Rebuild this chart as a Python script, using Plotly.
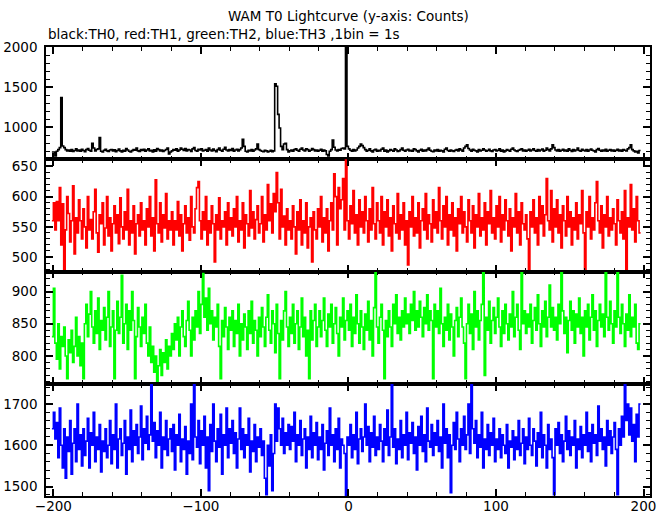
import numpy as np
import plotly.graph_objects as go
from plotly.subplots import make_subplots

# ---------------- data (counts per 1 s bin, bins from t = -201 s) ----------------
t_start = -201.0
bin_width = 1.0

th0 = [690,
       690, 640, 700, 720, 745, 1370, 765, 745, 720, 705, 715, 700, 722, 698, 710, 730, 705, 715, 700, 725,
       710, 695, 720, 735, 712, 700, 800, 740, 705, 722, 730, 870, 700, 690, 712, 725, 705, 698, 715, 720,
       702, 718, 695, 710, 728, 705, 690, 712, 700, 735, 715, 700, 690, 708, 722, 712, 740, 705, 698, 720,
       710, 725, 700, 715, 730, 705, 712, 690, 718, 700, 735, 720, 705, 715, 698, 710, 722, 740, 665, 690,
       705, 720, 712, 730, 700, 715, 740, 725, 710, 735, 705, 722, 715, 698, 730, 745, 710, 700, 725, 715,
       730, 705, 712, 720, 700, 740, 715, 705, 728, 710, 695, 720, 740, 712, 700, 725, 750, 715, 705, 722,
       710, 735, 700, 715, 725, 705, 720, 740, 850, 760, 700, 690, 712, 705, 720, 700, 715, 730, 790, 720,
       710, 700, 695, 712, 705, 690, 700, 712, 695, 705, 1540, 1510, 1160, 990, 760, 720, 790, 800, 720, 690,
       705, 715, 700, 720, 730, 712, 700, 725, 740, 715, 705, 730, 720, 700, 712, 735, 720, 705, 715, 700,
       712, 725, 700, 715, 705, 660, 640, 700, 720, 840, 750, 715, 705, 720, 712, 735, 740, 730, 2150, 760,
       730, 712, 700, 720, 705, 715, 740, 760, 790, 770, 745, 720, 700, 712, 730, 705, 690, 715, 725, 700,
       712, 705, 725, 740, 700, 715, 690, 705, 720, 712, 700, 730, 715, 698, 705, 720, 740, 712, 700, 715,
       725, 705, 712, 700, 730, 720, 705, 690, 712, 725, 700, 715, 705, 720, 740, 712, 700, 695, 715, 705,
       720, 700, 712, 705, 690, 725, 740, 710, 700, 715, 705, 698, 712, 720, 705, 730, 715, 700, 740, 760,
       780, 735, 715, 700, 725, 712, 705, 690, 720, 705, 712, 730, 715, 700, 710, 725, 705, 698, 715, 720,
       705, 712, 730, 700, 715, 690, 705, 720, 712, 700, 725, 740, 715, 705, 698, 712, 720, 730, 705, 715,
       700, 712, 725, 705, 715, 730, 710, 700, 722, 705, 715, 728, 700, 712, 740, 720, 705, 730, 780, 745,
       715, 705, 720, 700, 712, 725, 705, 715, 700, 730, 712, 698, 720, 705, 715, 740, 710, 700, 725, 712,
       705, 720, 700, 715, 728, 712, 705, 690, 720, 735, 712, 700, 715, 705, 725, 700, 712, 720, 705, 715,
       700, 712, 725, 705, 715, 700, 720, 712, 705, 730, 745, 780, 720, 705, 690, 700, 680, 710]

th1 = [560,
       590, 545, 592, 560, 615, 520, 588, 478, 545, 600, 572, 525, 560, 618, 505, 565, 540, 595, 560, 530,
       580, 550, 515, 600, 545, 562, 530, 575, 612, 540, 508, 570, 555, 590, 520, 548, 600, 535, 565, 510,
       555, 585, 540, 570, 522, 598, 550, 530, 575, 545, 612, 520, 560, 540, 585, 505, 555, 570, 535, 590,
       545, 560, 520, 580, 550, 600, 535, 565, 510, 628, 555, 540, 590, 525, 570, 548, 605, 530, 560, 545,
       575, 520, 560, 545, 592, 535, 570, 510, 555, 585, 540, 565, 528, 600, 550, 540, 580, 615, 625, 560,
       530, 575, 545, 600, 520, 560, 540, 585, 555, 492, 570, 545, 598, 530, 560, 550, 575, 520, 590, 545,
       565, 535, 580, 550, 600, 525, 560, 545, 590, 515, 570, 555, 535, 610, 548, 575, 530, 562, 585, 540,
       555, 600, 525, 570, 545, 620, 560, 588, 540, 605, 575, 640, 590, 530, 612, 550, 568, 520, 580, 545,
       560, 530, 585, 550, 505, 575, 545, 595, 520, 560, 540, 590, 515, 550, 565, 492, 575, 545, 530, 580,
       550, 600, 525, 565, 540, 580, 510, 560, 590, 545, 638, 600, 520, 615, 580, 595, 630, 545, 700, 560,
       530, 585, 555, 610, 540, 570, 520, 595, 550, 575, 540, 600, 560, 525, 580, 545, 615, 555, 530, 590,
       560, 540, 600, 520, 575, 550, 595, 535, 565, 510, 585, 555, 540, 605, 530, 570, 545, 590, 520, 560,
       487, 575, 550, 600, 535, 565, 540, 590, 515, 560, 580, 545, 605, 530, 570, 555, 525, 595, 548, 575,
       540, 615, 560, 530, 585, 550, 600, 520, 570, 545, 590, 535, 565, 510, 580, 555, 600, 540, 575, 550,
       525, 595, 560, 540, 585, 515, 570, 550, 605, 535, 565, 545, 590, 520, 575, 555, 610, 540, 565, 530,
       585, 550, 600, 525, 570, 545, 595, 560, 535, 580, 510, 565, 550, 605, 540, 575, 520, 590, 555, 545,
       570, 530, 480, 575, 550, 595, 540, 565, 520, 600, 555, 585, 535, 570, 630, 560, 545, 610, 525, 580,
       550, 595, 540, 570, 515, 585, 560, 535, 600, 550, 575, 520, 565, 545, 590, 530, 570, 555, 610, 540,
       478, 575, 550, 600, 530, 565, 545, 590, 625, 560, 540, 585, 515, 570, 550, 600, 535, 565, 545, 580,
       555, 520, 595, 560, 540, 575, 530, 610, 478, 565, 550, 620, 545, 580, 525, 600, 560, 540]

th2 = [830,
       905, 820, 795, 850, 780, 830, 815, 845, 800, 765, 825, 805, 840, 790, 815, 860, 800, 830, 785, 820,
       765, 850, 880, 830, 865, 900, 845, 820, 870, 835, 890, 810, 855, 840, 875, 825, 860, 900, 815, 845,
       870, 765, 840, 885, 835, 860, 925, 820, 850, 880, 810, 870, 840, 900, 855, 765, 830, 875, 845, 815,
       860, 835, 880, 820, 800, 845, 790, 815, 775, 800, 760, 785, 810, 770, 805, 790, 825, 780, 815, 800,
       835, 810, 850, 825, 860, 800, 845, 870, 830, 815, 855, 885, 840, 800, 860, 825, 870, 845, 900, 835,
       880, 928, 860, 890, 840, 905, 850, 870, 825, 860, 845, 880, 815, 765, 855, 830, 875, 845, 810, 860,
       840, 870, 815, 855, 835, 880, 800, 850, 825, 865, 845, 810, 870, 835, 885, 820, 855, 840, 800, 860,
       830, 875, 845, 815, 860, 895, 840, 820, 870, 850, 805, 880, 835, 765, 855, 825, 870, 900, 845, 815,
       860, 835, 880, 820, 850, 870, 810, 845, 890, 830, 860, 800, 840, 765, 870, 825, 855, 880, 815, 845,
       870, 830, 855, 890, 840, 815, 865, 845, 880, 820, 850, 875, 835, 800, 860, 845, 890, 825, 855, 870,
       840, 880, 815, 860, 835, 895, 850, 820, 870, 845, 810, 865, 840, 885, 825, 855, 800, 875, 930, 845,
       820, 860, 880, 840, 765, 855, 830, 870, 845, 815, 880, 850, 895, 835, 860, 825, 870, 845, 890, 850,
       865, 835, 880, 855, 900, 840, 870, 845, 885, 860, 830, 875, 850, 895, 840, 870, 855, 765, 880, 845,
       870, 835, 905, 850, 815, 860, 840, 880, 825, 865, 845, 800, 855, 875, 830, 860, 890, 845, 820, 765,
       850, 880, 835, 865, 810, 900, 845, 870, 825, 855, 880, 930, 770, 860, 840, 885, 820, 855, 875, 835,
       860, 890, 845, 815, 870, 835, 880, 850, 825, 865, 845, 900, 830, 860, 880, 840, 810, 930, 850, 870,
       835, 865, 845, 880, 820, 855, 875, 840, 895, 850, 815, 870, 845, 885, 830, 860, 910, 845, 875, 840,
       860, 825, 880, 850, 930, 870, 835, 860, 805, 855, 885, 840, 870, 820, 865, 845, 890, 835, 860, 800,
       870, 845, 880, 825, 860, 895, 840, 870, 815, 855, 880, 845, 865, 830, 930, 860, 840, 885, 850, 820,
       870, 845, 930, 860, 835, 880, 850, 815, 865, 840, 895, 830, 860, 845, 880, 820, 810, 850]

th3 = [1640,
       1680, 1615, 1655, 1570, 1690, 1600, 1545, 1640, 1520, 1620, 1585, 1660, 1530, 1605, 1640, 1560, 1700, 1590, 1625, 1550,
       1640, 1575, 1610, 1665, 1545, 1630, 1600, 1680, 1560, 1620, 1590, 1650, 1535, 1610, 1585, 1640, 1570, 1600, 1660, 1555,
       1625, 1590, 1700, 1545, 1615, 1640, 1575, 1605, 1660, 1530, 1620, 1590, 1685, 1560, 1635, 1600, 1650, 1580, 1620, 1695,
       1565, 1640, 1605, 1670, 1590, 1625, 1749, 1610, 1655, 1570, 1635, 1600, 1680, 1545, 1620, 1590, 1660, 1575, 1615, 1640,
       1585, 1650, 1540, 1625, 1600, 1675, 1560, 1615, 1590, 1645, 1530, 1610, 1580, 1700, 1565, 1749, 1620, 1595, 1660, 1555,
       1635, 1600, 1670, 1545, 1620, 1490, 1650, 1585, 1700, 1610, 1560, 1640, 1595, 1675, 1530, 1625, 1600, 1690, 1570, 1640,
       1605, 1660, 1580, 1630, 1545, 1615, 1690, 1590, 1640, 1570, 1625, 1600, 1665, 1535, 1610, 1585, 1650, 1560, 1620, 1595,
       1640, 1575, 1610, 1520, 1480, 1600, 1550, 1625, 1490, 1580, 1700, 1610, 1690, 1640, 1600, 1665, 1580, 1630, 1600, 1650,
       1590, 1645, 1610, 1680, 1560, 1625, 1600, 1660, 1575, 1615, 1640, 1545, 1620, 1590, 1670, 1570, 1630, 1600, 1655, 1565,
       1620, 1590, 1650, 1540, 1605, 1635, 1575, 1690, 1600, 1625, 1560, 1640, 1590, 1665, 1545, 1615, 1600, 1580, 1477, 1620,
       1600, 1650, 1570, 1625, 1590, 1680, 1555, 1615, 1640, 1585, 1620, 1700, 1600, 1645, 1560, 1630, 1595, 1670, 1575, 1620,
       1590, 1650, 1610, 1560, 1640, 1600, 1685, 1575, 1620, 1749, 1595, 1640, 1555, 1615, 1590, 1660, 1570, 1625, 1600, 1680,
       1565, 1630, 1605, 1655, 1580, 1620, 1540, 1645, 1600, 1670, 1585, 1625, 1560, 1690, 1610, 1595, 1650, 1575, 1630, 1600,
       1660, 1585, 1620, 1545, 1700, 1605, 1640, 1570, 1625, 1485, 1600, 1655, 1590, 1680, 1615, 1560, 1640, 1600, 1670, 1590,
       1625, 1700, 1580, 1749, 1640, 1605, 1660, 1570, 1625, 1595, 1680, 1545, 1615, 1590, 1650, 1575, 1630, 1600, 1665, 1560,
       1615, 1590, 1640, 1570, 1625, 1600, 1580, 1650, 1545, 1610, 1595, 1635, 1565, 1620, 1590, 1660, 1575, 1605, 1640, 1555,
       1620, 1590, 1665, 1600, 1575, 1640, 1610, 1550, 1630, 1595, 1680, 1570, 1625, 1600, 1545, 1650, 1590, 1615, 1570, 1480,
       1640, 1600, 1655, 1580, 1625, 1560, 1610, 1670, 1590, 1635, 1575, 1620, 1600, 1660, 1545, 1615, 1590, 1645, 1570, 1625,
       1600, 1680, 1585, 1630, 1560, 1650, 1605, 1625, 1575, 1695, 1610, 1640, 1590, 1620, 1550, 1660, 1600, 1635, 1580, 1620,
       1655, 1590, 1480, 1640, 1600, 1670, 1620, 1749, 1660, 1700, 1625, 1690, 1610, 1650, 1560, 1675, 1620, 1700]

series = [th0, th1, th2, th3]
colors = ["#000000", "#ff0000", "#00ff00", "#0000ff"]
names = ["TH0", "TH1", "TH2", "TH3"]
y_ranges = [[600, 2000], [476, 662], [757, 931], [1477, 1749]]
y_dticks = [500, 50, 50, 100]
y_minor = [100, 10, 10, 20]
x_range = [-205, 204.4]

title_text = "WAM T0 Lightcurve (y-axis: Counts)"
sub_text = "black:TH0, red:TH1, green:TH2, blue:TH3 ,1bin = 1s"

FONT = "DejaVu Sans"
FS = 13.5

fig = make_subplots(rows=4, cols=1, shared_xaxes=True, vertical_spacing=0)

for i, vals in enumerate(series):
    edges = t_start + bin_width * np.arange(len(vals) + 1)
    yy = list(vals) + [vals[-1]]
    fig.add_trace(go.Scatter(x=edges, y=yy, mode="lines", line_shape="hv",
                             line=dict(color=colors[i], width=1.6),
                             name=names[i], showlegend=False, hoverinfo="skip"),
                  row=i + 1, col=1)
    fig.update_yaxes(range=y_ranges[i], dtick=y_dticks[i], tick0=0, automargin=False,
                     ticks="inside", ticklen=7, tickwidth=1.5, tickcolor="black",
                     minor=dict(dtick=y_minor[i], ticks="inside", ticklen=4,
                                tickwidth=1.2, tickcolor="black", showgrid=False),
                     showline=True, linecolor="black", linewidth=1.5, mirror="ticks",
                     showgrid=False, zeroline=False,
                     tickfont=dict(family=FONT, size=FS, color="black"),
                     ticklabelstandoff=4,
                     row=i + 1, col=1)
    fig.update_xaxes(range=x_range, dtick=100, tick0=0, automargin=False,
                     ticks="inside", ticklen=7, tickwidth=1.5, tickcolor="black",
                     minor=dict(dtick=20, ticks="inside", ticklen=4,
                                tickwidth=1.2, tickcolor="black", showgrid=False),
                     showline=True, linecolor="black", linewidth=1.5, mirror="ticks",
                     showgrid=False, zeroline=False,
                     tickfont=dict(family=FONT, size=FS, color="black"),
                     ticklabelstandoff=-3,
                     row=i + 1, col=1)

fig.add_annotation(text=title_text, xref="paper", yref="paper", x=0.5, y=1 + 31 / 449,
                   xanchor="center", yanchor="middle", showarrow=False,
                   font=dict(family=FONT, size=FS, color="black"))
fig.add_annotation(text=sub_text, xref="paper", yref="paper", x=0, y=1 + 13 / 449,
                   xanchor="left", yanchor="middle", showarrow=False,
                   font=dict(family=FONT, size=FS, color="black"))

fig.update_layout(width=669, height=515,
                  margin=dict(l=46, r=19, t=47, b=19, autoexpand=False),
                  paper_bgcolor="white", plot_bgcolor="white",
                  font=dict(family=FONT, size=FS, color="black"))

fig.write_html("out.html", config={"displayModeBar": False},
               post_script="document.body.style.margin='0';document.body.style.overflow='hidden';")
